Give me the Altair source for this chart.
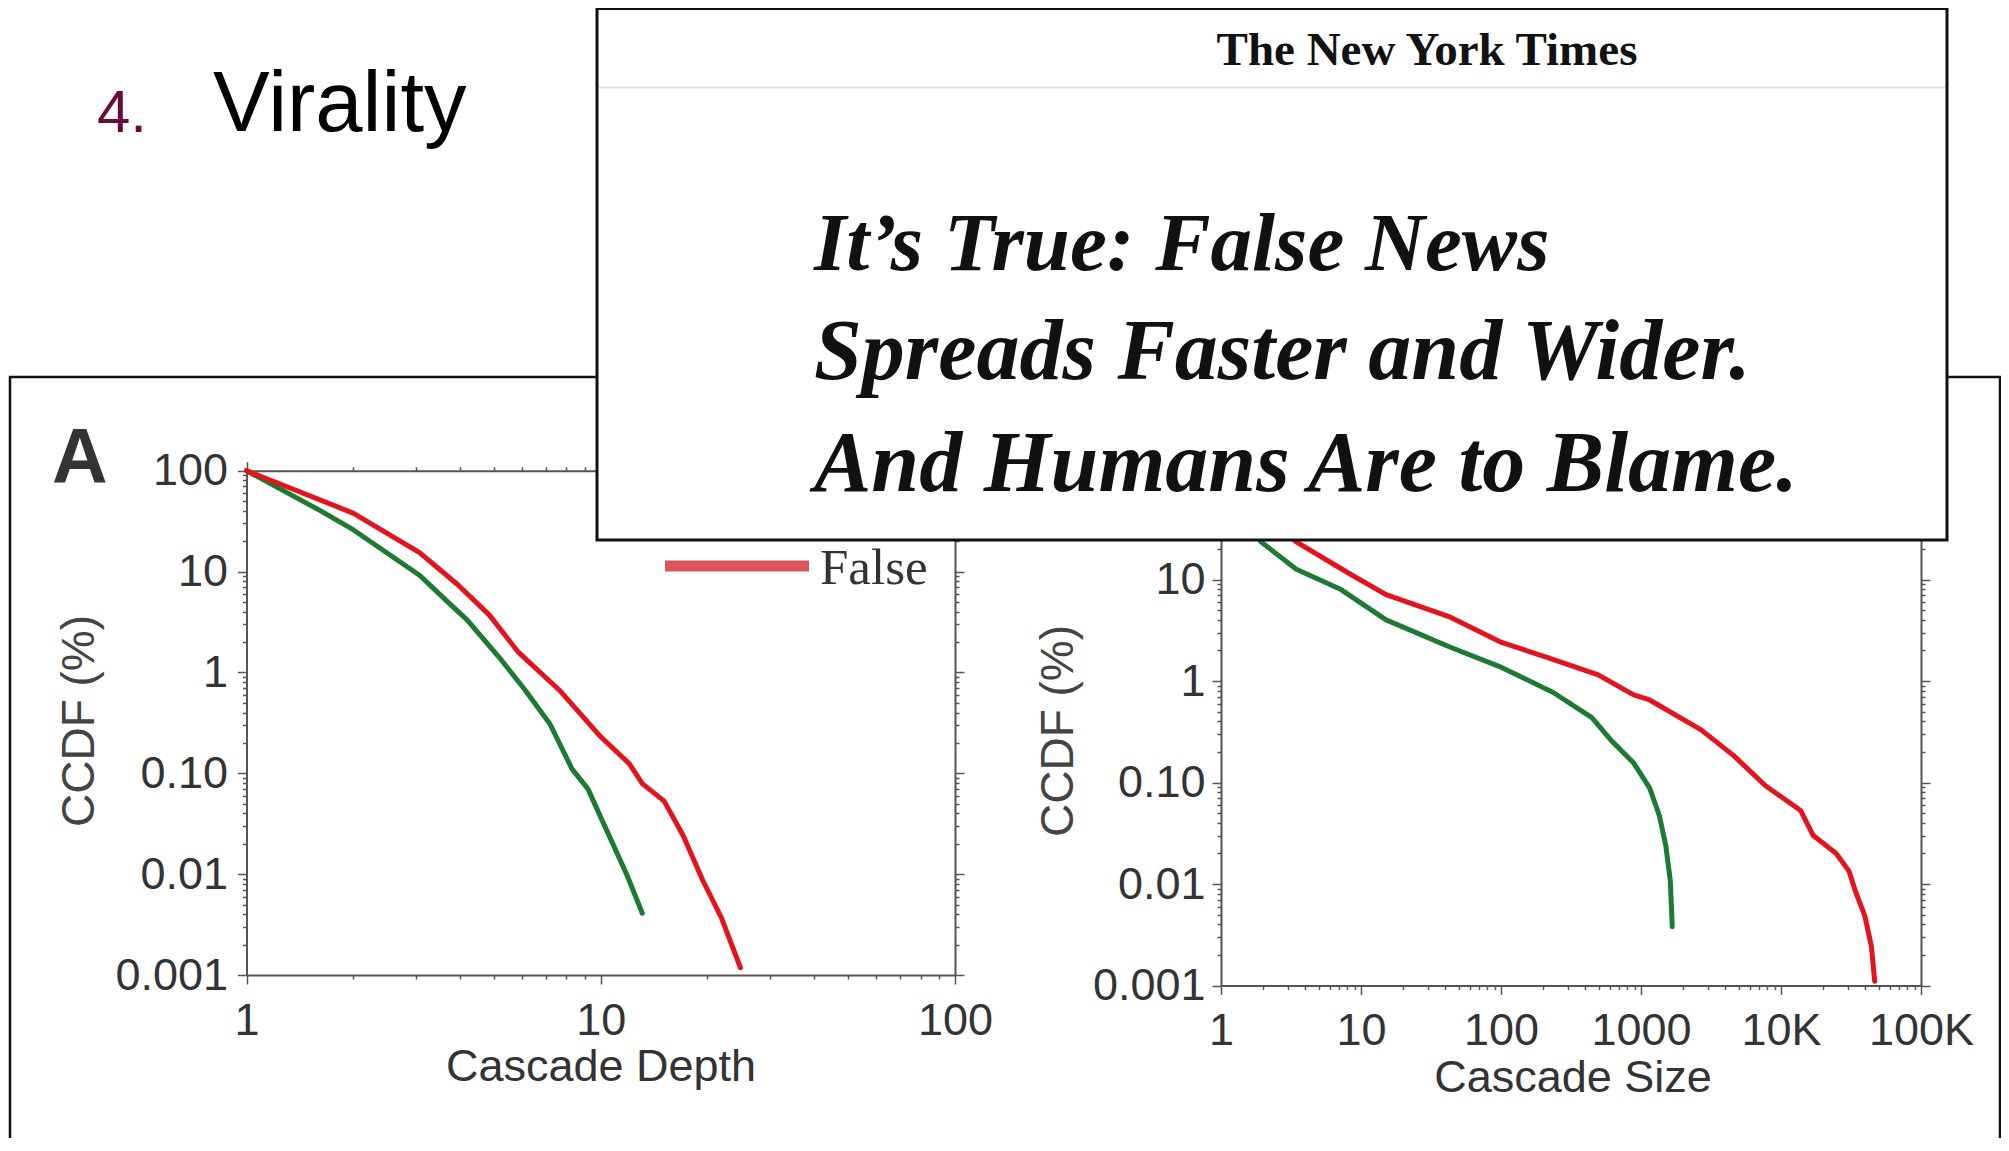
import altair as alt
import pandas as pd

# ---------------- data ----------------
series_names = ["True", "False"]
series_colors = ["#1d7a33", "#e3141b"]

# Panel A: cascade depth CCDF (%)
depth_true_x = [1, 1.62, 2.0, 3.08, 3.71, 4.2, 5.16, 6.09, 7.18, 8.3, 9.2, 10.4, 11.8, 13.1]
depth_true_y = [100, 40, 26, 9.2, 4.95, 3.3, 1.42, 0.68, 0.31, 0.11, 0.07, 0.027, 0.0102, 0.0041]
depth_false_x = [1, 2.0, 3.08, 3.95, 4.85, 5.84, 7.7, 10, 12.05, 13.1, 15.1, 17.1, 19.4, 21.9, 24.8]
depth_false_y = [100, 38, 15.4, 7.4, 3.7, 1.6, 0.65, 0.23, 0.124, 0.079, 0.053, 0.024, 0.0087, 0.0037, 0.00118]

# Panel B: cascade size CCDF (%)
size_true_x = [1, 1.93, 3.45, 7.2, 15.1, 43.5, 101, 236, 446, 612, 886, 1154, 1353, 1503, 1620, 1672]
size_true_y = [100, 23.5, 12.6, 7.96, 4.0, 2.15, 1.36, 0.77, 0.435, 0.26, 0.156, 0.088, 0.047, 0.024, 0.0107, 0.0038]
size_false_x = [1, 3.45, 8.46, 15.1, 43.5, 101, 213, 495, 886, 1154, 2690, 4570, 7750, 13800, 17000,
                24800, 30600, 34000, 39800, 44300, 46700]
size_false_y = [100, 23.5, 11.2, 7.1, 4.25, 2.4, 1.71, 1.15, 0.73, 0.65, 0.33, 0.185, 0.093, 0.053, 0.030,
                0.020, 0.0134, 0.0085, 0.0048, 0.0024, 0.0011]

# tick labels
depth_major = [1, 10, 100]
depth_major_labels = ["1", "10", "100"]
size_major = [1, 10, 100, 1000, 10000, 100000]
size_major_labels = ["1", "10", "100", "1000", "10K", "100K"]
ccdf_major = [100, 10, 1, 0.1, 0.01, 0.001]
ccdf_major_labels = ["100", "10", "1", "0.10", "0.01", "0.001"]

# texts
slide_number = "4."
slide_title = "Virality"
panel_label = "A"
nyt_name = "The New York Times"
headline_lines = ["It’s True: False News", "Spreads Faster and Wider.", "And Humans Are to Blame."]
legend_label = "False"
x_titles = ["Cascade Depth", "Cascade Size"]
y_title = "CCDF (%)"

# ---------------- layout ----------------
W, H = 1993, 1130
SANS = "Liberation Sans"
AXC = "#555555"
TXT = "#333333"


def tick_values(lo_exp, hi_exp):
    vals = []
    for e in range(lo_exp, hi_exp):
        for m in range(1, 10):
            vals.append(float(f"{m}e{e}"))
    vals.append(float(f"1e{hi_exp}"))
    return vals


def major_test(values):
    return "indexof([" + ", ".join(repr(v) for v in values) + "], datum.value) >= 0"


def label_expr(values, labels):
    parts = [f"datum.value == {v!r} ? '{l}'" for v, l in zip(values, labels)]
    return " : ".join(parts) + " : ''"


def make_axis(orient, offset, values, majors, labels=None, pad=10):
    kw = dict(
        orient=orient, offset=offset, values=values, grid=False,
        domainColor=AXC, domainWidth=2, tickColor=AXC, tickWidth=1.5,
        tickSize={"condition": {"test": major_test(majors), "value": 9}, "value": 4},
    )
    if labels is not None:
        kw.update(labels=True, labelExpr=label_expr(majors, labels), labelFont=SANS,
                  labelFontSize=45, labelColor=TXT, labelPadding=pad,
                  labelFlush=False, labelOverlap=False)
    else:
        kw.update(labels=False)
    return alt.Axis(**kw)


def series_frame(xs_true, ys_true, xs_false, ys_false):
    return pd.DataFrame({
        "x": list(xs_true) + list(xs_false),
        "y": list(ys_true) + list(ys_false),
        "series": [series_names[0]] * len(xs_true) + [series_names[1]] * len(xs_false),
    })


def ccdf_panel(df, xdomain, xrange, yrange, xvals, xmajor, xlabels, ylabel_pad):
    xs = alt.Scale(type="log", domain=xdomain, range=xrange, nice=False)
    ys = alt.Scale(type="log", domain=[0.001, 100], range=yrange, nice=False)
    yvals = tick_values(-3, 2)
    lines = alt.Chart(df).mark_line(strokeWidth=5, strokeJoin="round", strokeCap="round").encode(
        x=alt.X("x:Q", scale=xs, title=None,
                axis=make_axis("bottom", yrange[0] - H, xvals, xmajor, xlabels, pad=14)),
        y=alt.Y("y:Q", scale=ys, title=None,
                axis=make_axis("left", -xrange[0], yvals, ccdf_major, ccdf_major_labels, pad=ylabel_pad)),
        color=alt.Color("series:N", legend=None,
                        scale=alt.Scale(domain=series_names, range=series_colors)),
        detail="series:N",
    )
    frame = alt.Chart(df).mark_point(opacity=0).encode(
        x=alt.X("x:Q", scale=xs, title=None,
                axis=make_axis("top", -yrange[1], xvals, xmajor)),
        y=alt.Y("y:Q", scale=ys, title=None,
                axis=make_axis("right", -(W - xrange[1]), yvals, ccdf_major)),
    )
    return alt.layer(lines, frame).resolve_axis(x="independent", y="independent")


def text(t, x, y, size, font=SANS, color=TXT, weight="normal", style="normal",
         align="left", baseline="alphabetic", angle=0):
    return alt.Chart(pd.DataFrame({"t": [t]})).mark_text(
        font=font, fontSize=size, color=color, fontWeight=weight, fontStyle=style,
        align=align, baseline=baseline, angle=angle,
    ).encode(x=alt.value(x), y=alt.value(y), text="t:N")


def rect(x1, x2, y1, y2, stroke, sw, fill="white", fill_opacity=1.0):
    return alt.Chart(pd.DataFrame({"a": [0]})).mark_rect(
        fill=fill, fillOpacity=fill_opacity, stroke=stroke, strokeWidth=sw
    ).encode(x=alt.value(x1), x2=alt.value(x2), y=alt.value(y1), y2=alt.value(y2))


def hrule(x1, x2, y, color, sw):
    return alt.Chart(pd.DataFrame({"a": [0]})).mark_rule(color=color, strokeWidth=sw).encode(
        x=alt.value(x1), x2=alt.value(x2), y=alt.value(y))


depth_df = series_frame(depth_true_x, depth_true_y, depth_false_x, depth_false_y)
size_df = series_frame(size_true_x, size_true_y, size_false_x, size_false_y)

panel_a = ccdf_panel(depth_df, [1, 100], [238.5, 947], [967, 462.7],
                     tick_values(0, 2), depth_major, depth_major_labels, 10)
panel_b = ccdf_panel(size_df, [1, 100000], [1213, 1913], [977.5, 470],
                     tick_values(0, 5), size_major, size_major_labels, 7)

HEAD = "Liberation Serif"
layers = [
    rect(2, 1992, 369, 1200, "#111111", 2.5, fill_opacity=0),
    panel_a,
    panel_b,
    hrule(657, 801, 558, "#d9575c", 11),
    text(legend_label, 812, 576, 51, font="Liberation Serif"),
    text(x_titles[0], 593, 1073, 45, align="center"),
    text(x_titles[1], 1565, 1084, 45, align="center"),
    text(y_title, 72, 713, 46, color="#444444", align="center", baseline="middle", angle=270),
    text(y_title, 1051, 723, 46, color="#444444", align="center", baseline="middle", angle=270),
    text(panel_label, 44, 475, 77, font="Liberation Sans Narrow, Liberation Sans", weight="bold"),
    rect(589, 1939, 0.5, 532, "#111111", 3),
    hrule(591, 1937, 79.5, "#e2e2e2", 2),
    text(nyt_name, 1419, 57, 47, font=HEAD, color="#111111", weight="bold", align="center"),
    text(headline_lines[0], 806, 262, 83, font=HEAD, color="#111111", weight="bold", style="italic"),
    text(headline_lines[1], 806, 371, 86, font=HEAD, color="#111111", weight="bold", style="italic"),
    text(headline_lines[2], 806, 483, 86, font=HEAD, color="#111111", weight="bold", style="italic"),
    text(slide_number, 89, 124, 60, color="#6b0a3a"),
    text(slide_title, 205, 123, 85, color="#000000"),
]

chart = alt.layer(*layers).resolve_scale(
    x="independent", y="independent"
).properties(
    width=W, height=H,
    autosize=alt.AutoSizeParams(type="none"),
    padding={"left": 0, "top": 0, "right": 0, "bottom": 0},
    background="white",
).configure_view(strokeWidth=0)

chart.save("out.html", embed_options={"renderer": "svg", "actions": False})
